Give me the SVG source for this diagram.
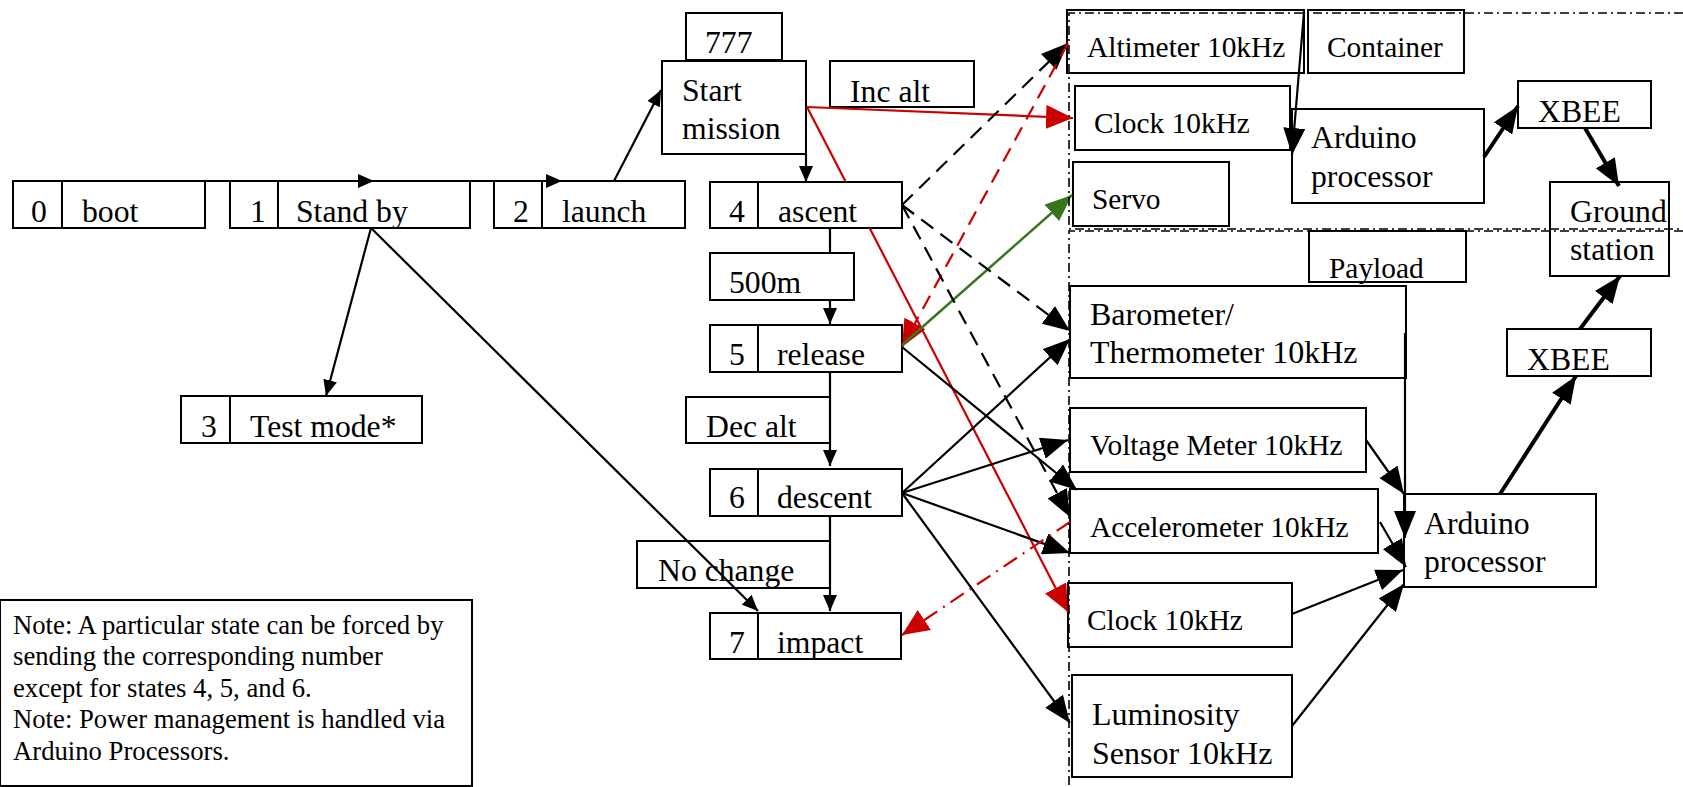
<svg xmlns="http://www.w3.org/2000/svg" width="1683" height="787" viewBox="0 0 1683 787">
<style>
text{font-family:"Liberation Serif","Times New Roman",serif;fill:#000}
.s{font-size:31.7px}
.m{font-size:29.4px}
.b{font-size:32px}
.n{font-size:26.7px}
.box{fill:#fff;stroke:#000;stroke-width:2}
.open{fill:none;stroke:#000;stroke-width:2}
.ln{fill:none;stroke:#000;stroke-width:2.2}
.thick{fill:none;stroke:#000;stroke-width:4}
.dash{fill:none;stroke:#000;stroke-width:2.2;stroke-dasharray:15 9}
.red{fill:none;stroke:#cc0000;stroke-width:2.2}
.reddash{fill:none;stroke:#cc0000;stroke-width:2.2;stroke-dasharray:15 9}
.reddd{fill:none;stroke:#cc0000;stroke-width:2.2;stroke-dasharray:16 7 2 7}
.green{fill:none;stroke:#38761d;stroke-width:2.5}
.region{fill:none;stroke:#000;stroke-width:1.6;stroke-dasharray:9 4 2 4}
</style>
<defs>
<marker id="aS" markerUnits="userSpaceOnUse" markerWidth="16" markerHeight="14" refX="16" refY="7" orient="auto"><path d="M0,0 L16,7 L0,14 z" fill="#000"/></marker>
<marker id="aL" markerUnits="userSpaceOnUse" markerWidth="27" markerHeight="22" refX="27" refY="11" orient="auto"><path d="M0,0 L27,11 L0,22 z" fill="#000"/></marker>
<marker id="aR" markerUnits="userSpaceOnUse" markerWidth="27" markerHeight="24" refX="27" refY="12" orient="auto"><path d="M0,0 L27,12 L0,24 z" fill="#cc0000"/></marker>
<marker id="aG" markerUnits="userSpaceOnUse" markerWidth="27" markerHeight="22" refX="27" refY="11" orient="auto"><path d="M0,0 L27,11 L0,22 z" fill="#38761d"/></marker>
</defs>
<rect x="0" y="0" width="1683" height="787" fill="#fff"/>

<g id="node-boot"><rect class="box" x="13" y="181" width="192" height="47"/><line class="open" x1="62" y1="181" x2="62" y2="228"/><text class="s" x="31" y="222">0</text><text class="s" x="82" y="222">boot</text></g>
<g id="node-standby"><rect class="box" x="230" y="181" width="240" height="47"/><line class="open" x1="278" y1="181" x2="278" y2="228"/><text class="s" x="250" y="222">1</text><text class="s" x="296" y="222">Stand by</text></g>
<g id="node-launch"><rect class="box" x="494" y="181" width="191" height="47"/><line class="open" x1="542" y1="181" x2="542" y2="228"/><text class="s" x="513" y="222">2</text><text class="s" x="562" y="222">launch</text></g>
<g id="node-777"><rect class="box" x="686" y="13" width="96" height="47"/><text class="s" x="705" y="53">777</text></g>
<g id="node-startmission"><rect class="box" x="662" y="61" width="144" height="93"/><text class="s" x="682" y="101">Start</text><text class="s" x="682" y="139">mission</text></g>
<g id="node-incalt"><rect class="box" x="830" y="61" width="144" height="46"/><text class="s" x="850" y="102">Inc alt</text></g>
<g id="node-ascent"><rect class="box" x="710" y="182" width="192" height="46"/><line class="open" x1="758" y1="182" x2="758" y2="228"/><text class="s" x="729" y="222">4</text><text class="s" x="778" y="222">ascent</text></g>
<g id="node-500m"><rect class="box" x="710" y="253" width="144" height="47"/><text class="s" x="729" y="293">500m</text></g>
<g id="node-release"><rect class="box" x="710" y="325" width="192" height="47"/><line class="open" x1="758" y1="325" x2="758" y2="372"/><text class="s" x="729" y="365">5</text><text class="s" x="777" y="365">release</text></g>
<g id="node-decalt"><rect class="box" x="686" y="397" width="144" height="46"/><text class="s" x="706" y="437">Dec alt</text></g>
<g id="node-descent"><rect class="box" x="710" y="469" width="192" height="47"/><line class="open" x1="758" y1="469" x2="758" y2="516"/><text class="s" x="729" y="508">6</text><text class="s" x="777" y="508">descent</text></g>
<g id="node-nochange"><rect class="box" x="637" y="541" width="193" height="47"/><text class="s" x="658" y="581">No change</text></g>
<g id="node-impact"><rect class="box" x="710" y="613" width="191" height="46"/><line class="open" x1="758" y1="613" x2="758" y2="659"/><text class="s" x="729" y="653">7</text><text class="s" x="777" y="653">impact</text></g>
<g id="node-testmode"><rect class="box" x="181" y="396" width="241" height="47"/><line class="open" x1="230" y1="396" x2="230" y2="443"/><text class="s" x="201" y="437">3</text><text class="s" x="250" y="437">Test mode*</text></g>
<g id="node-note"><rect class="box" x="0" y="600" width="472" height="186"/>
<text class="n" x="13" y="634">Note: A particular state can be forced by</text>
<text class="n" x="13" y="665">sending the corresponding number</text>
<text class="n" x="13" y="697">except for states 4, 5, and 6.</text>
<text class="n" x="13" y="728">Note: Power management is handled via</text>
<text class="n" x="13" y="760">Arduino Processors.</text></g>

<g id="node-altimeter"><rect class="open" x="1067" y="10" width="237" height="63"/><text class="m" x="1087" y="57">Altimeter 10kHz</text></g>
<g id="node-container"><rect class="box" x="1308" y="10" width="156" height="63"/><text class="m" x="1327" y="57">Container</text></g>
<g id="node-clock-top"><rect class="box" x="1075" y="86" width="215" height="64"/><text class="m" x="1094" y="133">Clock 10kHz</text></g>
<g id="node-servo"><rect class="box" x="1073" y="162" width="156" height="64"/><text class="m" x="1092" y="209">Servo</text></g>
<g id="node-arduino-top"><rect class="box" x="1292" y="109" width="192" height="94"/><text class="s" x="1311" y="148">Arduino</text><text class="s" x="1311" y="187">processor</text></g>
<g id="node-xbee-top"><rect class="box" x="1518" y="81" width="133" height="47"/><text class="s" x="1538" y="122">XBEE</text></g>
<g id="node-ground"><rect class="box" x="1550" y="182" width="119" height="94"/><text class="s" x="1570" y="222">Ground</text><text class="s" x="1570" y="260">station</text></g>
<g id="node-payload"><rect class="box" x="1309" y="231" width="157" height="51"/><text class="m" x="1329" y="278">Payload</text></g>
<g id="node-barometer"><rect class="box" x="1070" y="286" width="336" height="92"/><text class="b" x="1090" y="325">Barometer/</text><text class="b" x="1090" y="363">Thermometer 10kHz</text></g>
<g id="node-voltage"><rect class="box" x="1070" y="408" width="296" height="64"/><text class="m" x="1090" y="455">Voltage Meter 10kHz</text></g>
<g id="node-accel"><rect class="box" x="1070" y="489" width="308" height="64"/><text class="m" x="1090" y="537">Accelerometer 10kHz</text></g>
<g id="node-clock-bottom"><rect class="box" x="1068" y="583" width="224" height="64"/><text class="m" x="1087" y="630">Clock 10kHz</text></g>
<g id="node-luminosity"><rect class="box" x="1072" y="675" width="220" height="102"/><text class="b" x="1092" y="725">Luminosity</text><text class="b" x="1092" y="764">Sensor 10kHz</text></g>
<g id="node-arduino-bottom"><rect class="box" x="1404" y="494" width="192" height="93"/><text class="s" x="1424" y="534">Arduino</text><text class="s" x="1424" y="572">processor</text></g>
<g id="node-xbee-bottom"><rect class="box" x="1507" y="329" width="144" height="47"/><text class="s" x="1527" y="370">XBEE</text></g>

<g id="connectors">
<line class="ln" x1="134" y1="181" x2="374" y2="181" marker-end="url(#aS)"/>
<line class="ln" x1="374" y1="181" x2="562" y2="181" marker-end="url(#aS)"/>
<line class="ln" x1="614" y1="181" x2="661" y2="90" marker-end="url(#aS)"/>
<line class="ln" x1="806" y1="154" x2="806" y2="182" marker-end="url(#aS)"/>
<line class="ln" x1="371" y1="228" x2="326" y2="396" marker-end="url(#aS)"/>
<line class="ln" x1="371" y1="228" x2="758" y2="611" marker-end="url(#aS)"/>
<path class="ln" d="M830,228 V253 M830,300 V324" marker-end="url(#aS)"/>
<line class="ln" x1="830" y1="372" x2="830" y2="466" marker-end="url(#aS)"/>
<line class="ln" x1="830" y1="516" x2="830" y2="611" marker-end="url(#aS)"/>
<line class="red" x1="807" y1="107" x2="1073" y2="118" marker-end="url(#aR)"/>
<path class="red" d="M807,107 L845.8,182 M869.6,228 L1068,612" marker-end="url(#aR)"/>
<line class="dash" x1="902" y1="205" x2="1068" y2="43" marker-end="url(#aL)"/>
<line class="reddash" x1="1068" y1="43" x2="902" y2="347" marker-end="url(#aR)"/>
<line class="green" x1="902" y1="345" x2="1072" y2="195" marker-end="url(#aG)"/>
<line class="dash" x1="902" y1="205" x2="1070" y2="331" marker-end="url(#aL)"/>
<line class="dash" x1="902" y1="205" x2="1070" y2="517" marker-end="url(#aL)"/>
<line class="ln" x1="902" y1="347" x2="1077" y2="490" marker-end="url(#aL)"/>
<line class="ln" x1="902" y1="493" x2="1070" y2="339" marker-end="url(#aL)"/>
<line class="ln" x1="902" y1="493" x2="1068" y2="440" marker-end="url(#aL)"/>
<line class="ln" x1="902" y1="493" x2="1070" y2="553" marker-end="url(#aL)"/>
<line class="ln" x1="902" y1="493" x2="1070" y2="723" marker-end="url(#aL)"/>
<line class="reddd" x1="1070" y1="522" x2="902" y2="635" marker-end="url(#aR)"/>
<line class="ln" x1="1304" y1="12" x2="1292" y2="155" marker-end="url(#aL)"/>
<line class="thick" x1="1484" y1="157" x2="1518" y2="106" marker-end="url(#aL)"/>
<line class="thick" x1="1585" y1="128" x2="1619" y2="186" marker-end="url(#aL)"/>
<line class="ln" x1="1405" y1="333" x2="1405" y2="538" marker-end="url(#aL)"/>
<line class="ln" x1="1366" y1="440" x2="1404" y2="494" marker-end="url(#aL)"/>
<line class="ln" x1="1380" y1="522" x2="1406" y2="567" marker-end="url(#aL)"/>
<line class="ln" x1="1292" y1="614" x2="1403" y2="570" marker-end="url(#aL)"/>
<line class="ln" x1="1292" y1="726" x2="1404" y2="584" marker-end="url(#aL)"/>
<line class="thick" x1="1500" y1="494" x2="1576" y2="376" marker-end="url(#aL)"/>
<line class="thick" x1="1580" y1="329" x2="1620" y2="276" marker-end="url(#aL)"/>
</g>

<g id="container-region"><path class="region" d="M1683,13 H1069 V229 H1683"/></g>
<g id="payload-region"><path class="region" d="M1683,231 H1069 V787"/></g>
</svg>
